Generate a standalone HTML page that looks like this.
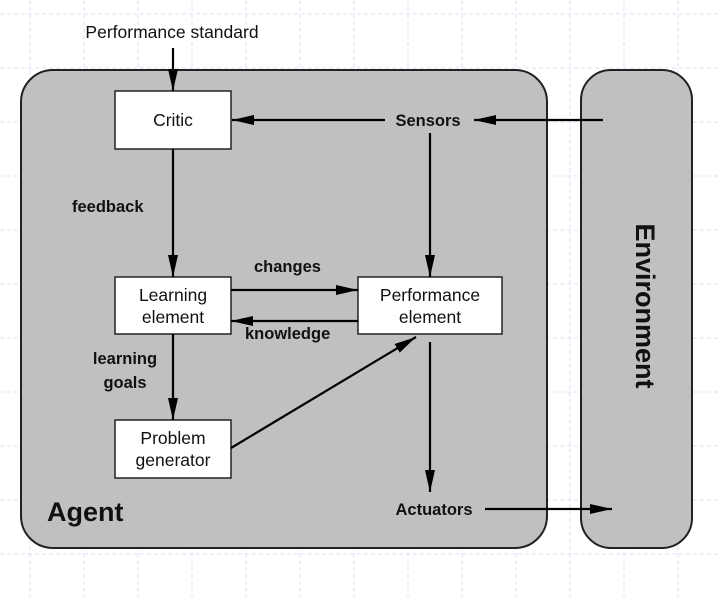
<!DOCTYPE html>
<html><head><style>body{margin:0;background:#fff}svg{display:block}</style></head><body>
<svg width="722" height="598" xmlns="http://www.w3.org/2000/svg" font-family="Liberation Sans, sans-serif">
<defs>
<marker id="b" markerWidth="22" markerHeight="10" refX="22" refY="5" orient="auto" markerUnits="userSpaceOnUse"><path d="M0,0 L22,5 L0,10 z" fill="#000"/></marker>
</defs>
<g stroke="#d8e0f4" stroke-width="1" stroke-dasharray="4,3">
<line x1="30" y1="0" x2="30" y2="598"/><line x1="84" y1="0" x2="84" y2="598"/><line x1="138" y1="0" x2="138" y2="598"/><line x1="192" y1="0" x2="192" y2="598"/><line x1="246" y1="0" x2="246" y2="598"/><line x1="300" y1="0" x2="300" y2="598"/><line x1="354" y1="0" x2="354" y2="598"/><line x1="408" y1="0" x2="408" y2="598"/><line x1="462" y1="0" x2="462" y2="598"/><line x1="516" y1="0" x2="516" y2="598"/><line x1="570" y1="0" x2="570" y2="598"/><line x1="624" y1="0" x2="624" y2="598"/><line x1="678" y1="0" x2="678" y2="598"/>
<line x1="0" y1="14" x2="722" y2="14"/><line x1="0" y1="68" x2="722" y2="68"/><line x1="0" y1="122" x2="722" y2="122"/><line x1="0" y1="176" x2="722" y2="176"/><line x1="0" y1="230" x2="722" y2="230"/><line x1="0" y1="284" x2="722" y2="284"/><line x1="0" y1="338" x2="722" y2="338"/><line x1="0" y1="392" x2="722" y2="392"/><line x1="0" y1="446" x2="722" y2="446"/><line x1="0" y1="500" x2="722" y2="500"/><line x1="0" y1="554" x2="722" y2="554"/>
</g>
<rect x="21" y="70" width="526" height="478" rx="32" fill="#c0c0c0" stroke="#222" stroke-width="2"/>
<rect x="581" y="70" width="111" height="478" rx="30" fill="#c0c0c0" stroke="#222" stroke-width="2"/>
<g fill="#fff" stroke="#222" stroke-width="1.5">
<rect x="115" y="91" width="116" height="58"/>
<rect x="115" y="277" width="116" height="57"/>
<rect x="358" y="277" width="144" height="57"/>
<rect x="115" y="420" width="116" height="58"/>
</g>
<g stroke="#000" stroke-width="2.2" fill="none">
<line x1="173" y1="48" x2="173" y2="91" marker-end="url(#b)"/>
<line x1="603" y1="120" x2="474" y2="120" marker-end="url(#b)"/>
<line x1="385" y1="120" x2="232" y2="120" marker-end="url(#b)"/>
<line x1="430" y1="133" x2="430" y2="277" marker-end="url(#b)"/>
<line x1="173" y1="149" x2="173" y2="277" marker-end="url(#b)"/>
<line x1="231" y1="290" x2="358" y2="290" marker-end="url(#b)"/>
<line x1="358" y1="321" x2="231" y2="321" marker-end="url(#b)"/>
<line x1="173" y1="334" x2="173" y2="420" marker-end="url(#b)"/>
<line x1="231" y1="448" x2="416" y2="337" marker-end="url(#b)"/>
<line x1="430" y1="342" x2="430" y2="492" marker-end="url(#b)"/>
<line x1="485" y1="509" x2="612" y2="509" marker-end="url(#b)"/>
</g>
<g font-size="17.5" fill="#111" text-anchor="middle">
<text x="172" y="38">Performance standard</text>
<text x="173" y="126">Critic</text>
<text x="173" y="301">Learning</text><text x="173" y="323">element</text>
<text x="430" y="301">Performance</text><text x="430" y="323">element</text>
<text x="173" y="444">Problem</text><text x="173" y="466">generator</text>
</g>
<g font-size="16.5" font-weight="bold" fill="#111">
<text x="428" y="126" text-anchor="middle">Sensors</text>
<text x="72" y="212">feedback</text>
<text x="254" y="272">changes</text>
<text x="245" y="339">knowledge</text>
<text x="125" y="364" text-anchor="middle">learning</text>
<text x="125" y="388" text-anchor="middle">goals</text>
<text x="434" y="515" text-anchor="middle">Actuators</text>
<text x="47" y="521" font-size="27">Agent</text>
<text x="0" y="0" font-size="27" text-anchor="middle" transform="translate(636,306) rotate(90)">Environment</text>
</g>
</svg>
</body></html>
